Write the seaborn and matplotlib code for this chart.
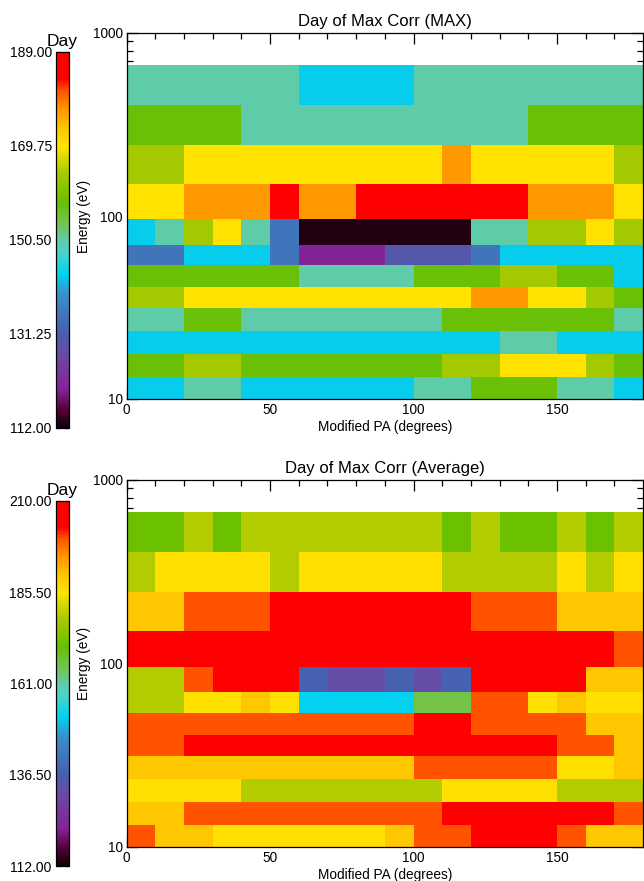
import numpy as np
import matplotlib
matplotlib.use("Agg")
import matplotlib.pyplot as plt
import seaborn as sns
from matplotlib.colors import LinearSegmentedColormap, Normalize
from matplotlib.ticker import FixedLocator, FixedFormatter, NullFormatter, FormatStrFormatter

# Pitch-angle bins (degrees) and energy bins (eV, listed from the top row down)
pa_edges = [0, 10, 20, 30, 40, 50, 60, 70, 80, 90, 100, 110, 120, 130, 140, 150, 160, 170, 180]
energy_edges = [668, 404, 244, 150, 96, 69.5, 54, 41, 31.4, 23.6, 17.6, 13.2, 10]

# Day of maximum correlation, per energy row (top row first) and pitch-angle bin
day_max = [
    [150, 150, 150, 150, 150, 150, 143, 143, 143, 143, 150, 150, 150, 150, 150, 150, 150, 150],
    [158, 158, 158, 158, 150, 150, 150, 150, 150, 150, 150, 150, 150, 150, 158, 158, 158, 158],
    [164, 164, 170, 170, 170, 170, 170, 170, 170, 170, 170, 177, 170, 170, 170, 170, 170, 164],
    [170, 170, 177, 177, 177, 186, 177, 177, 186, 186, 186, 186, 186, 186, 177, 177, 177, 170],
    [143, 150, 164, 170, 150, 135, 113, 113, 113, 113, 113, 113, 150, 150, 164, 164, 170, 164],
    [135, 135, 143, 143, 143, 135, 120, 120, 120, 130, 130, 130, 135, 143, 143, 143, 143, 143],
    [158, 158, 158, 158, 158, 158, 150, 150, 150, 150, 158, 158, 158, 164, 164, 158, 158, 143],
    [164, 164, 170, 170, 170, 170, 170, 170, 170, 170, 170, 170, 177, 177, 170, 170, 164, 158],
    [150, 150, 158, 158, 150, 150, 150, 150, 150, 150, 150, 158, 158, 158, 158, 158, 158, 150],
    [143, 143, 143, 143, 143, 143, 143, 143, 143, 143, 143, 143, 143, 150, 150, 143, 143, 143],
    [158, 158, 164, 164, 158, 158, 158, 158, 158, 158, 158, 164, 164, 170, 170, 170, 164, 158],
    [143, 143, 150, 150, 143, 143, 143, 143, 143, 143, 150, 150, 158, 158, 158, 150, 150, 143],
]

day_avg = [
    [171, 171, 179, 171, 179, 179, 179, 179, 179, 179, 179, 171, 179, 171, 171, 179, 171, 179],
    [179, 186, 186, 186, 186, 179, 186, 186, 186, 186, 186, 179, 179, 179, 179, 186, 179, 186],
    [190, 190, 200, 200, 200, 206, 206, 206, 206, 206, 206, 206, 200, 200, 200, 190, 190, 190],
    [206, 206, 206, 206, 206, 206, 206, 206, 206, 206, 206, 206, 206, 206, 206, 206, 206, 200],
    [179, 179, 200, 206, 206, 206, 137, 132, 132, 137, 132, 137, 206, 206, 206, 206, 190, 190],
    [179, 179, 186, 186, 190, 186, 152, 152, 152, 152, 166, 166, 200, 200, 186, 190, 186, 186],
    [200, 200, 200, 200, 200, 200, 200, 200, 200, 200, 206, 206, 200, 200, 200, 200, 190, 190],
    [200, 200, 206, 206, 206, 206, 206, 206, 206, 206, 206, 206, 206, 206, 206, 200, 200, 190],
    [190, 190, 190, 190, 190, 190, 190, 190, 190, 190, 200, 200, 200, 200, 200, 186, 186, 190],
    [186, 186, 186, 186, 179, 179, 179, 179, 179, 179, 179, 186, 186, 186, 186, 179, 179, 179],
    [190, 190, 200, 200, 200, 200, 200, 200, 200, 200, 200, 206, 206, 206, 206, 206, 206, 200],
    [200, 190, 190, 186, 186, 186, 186, 186, 186, 190, 200, 200, 206, 206, 206, 200, 190, 190],
]

panels = [
    ("Day of Max Corr (MAX)", day_max, (112.0, 189.0), [112.0, 131.25, 150.5, 169.75, 189.0]),
    ("Day of Max Corr (Average)", day_avg, (112.0, 210.0), [112.0, 136.5, 161.0, 185.5, 210.0]),
]

sns.set_theme(style="ticks")
plt.rcParams["font.family"] = ["Liberation Sans", "DejaVu Sans"]
plt.rcParams["axes.edgecolor"] = "black"
plt.rcParams["axes.linewidth"] = 0.9
plt.rcParams["text.color"] = "black"
plt.rcParams["axes.labelcolor"] = "black"
plt.rcParams["axes.titlecolor"] = "black"

# Rainbow table running black -> purple -> blue -> cyan -> green -> yellow -> red
rainbow = LinearSegmentedColormap.from_list("rainbow_day", [
    (0.00, (15 / 255, 0, 5 / 255)),
    (0.05, (90 / 255, 0, 60 / 255)),
    (0.10, (130 / 255, 35 / 255, 150 / 255)),
    (0.20, (105 / 255, 75 / 255, 165 / 255)),
    (0.25, (70 / 255, 95 / 255, 175 / 255)),
    (0.35, (60 / 255, 140 / 255, 200 / 255)),
    (0.41, (0, 212 / 255, 240 / 255)),
    (0.47, (80 / 255, 210 / 255, 200 / 255)),
    (0.50, (98 / 255, 203 / 255, 160 / 255)),
    (0.55, (115 / 255, 195 / 255, 75 / 255)),
    (0.60, (104 / 255, 192 / 255, 0)),
    (0.68, (170 / 255, 202 / 255, 0)),
    (0.75, (1.0, 228 / 255, 0)),
    (0.80, (1.0, 196 / 255, 0)),
    (0.85, (1.0, 150 / 255, 0)),
    (0.90, (1.0, 80 / 255, 0)),
    (0.93, (1.0, 0, 0)),
    (1.00, (1.0, 0, 0)),
])

W, H = 644.0, 881.0
fig = plt.figure(figsize=(W / 100, H / 100), dpi=100)

# pixel boxes: (left, top, right, bottom)
axes_boxes = [(126.7, 33, 643, 399), (126.7, 480, 643, 847)]
cbar_boxes = [(56, 52, 69, 428), (56, 501, 69, 866)]


def frac(box):
    l, t, r, b = box
    return [l / W, 1 - b / H, (r - l) / W, (b - t) / H]


for (title, grid, (vmin, vmax), cticks), abox, cbox in zip(panels, axes_boxes, cbar_boxes):
    ax = fig.add_axes(frac(abox))
    mesh = ax.pcolormesh(pa_edges, energy_edges, np.array(grid, dtype=float),
                         cmap=rainbow, norm=Normalize(vmin, vmax), shading="flat")
    ax.set_yscale("log")
    ax.set_xlim(0, 180)
    ax.set_ylim(10, 1000)
    ax.set_facecolor("white")

    ax.xaxis.set_major_locator(FixedLocator([0, 50, 100, 150]))
    ax.xaxis.set_minor_locator(FixedLocator([10, 20, 30, 40, 60, 70, 80, 90, 110, 120, 130, 140, 160, 170]))
    ax.yaxis.set_major_locator(FixedLocator([10, 100, 1000]))
    ax.yaxis.set_major_formatter(FixedFormatter(["10", "100", "1000"]))
    ax.yaxis.set_minor_locator(FixedLocator([m * d for d in (10, 100) for m in range(2, 10)]))
    ax.yaxis.set_minor_formatter(NullFormatter())
    ax.tick_params(which="both", direction="in", top=True, right=True, colors="black",
                   labelsize=9.8, width=0.9, pad=3)
    ax.tick_params(which="major", length=8)
    ax.tick_params(which="minor", length=4)

    ax.set_title(title, fontsize=12, pad=5)
    ax.set_xlabel("Modified PA (degrees)", fontsize=9.8, labelpad=2)
    ax.set_ylabel("Energy (eV)", fontsize=9.8, labelpad=1)
    for s in ax.spines.values():
        s.set_visible(True)
        s.set_color("black")

    cax = fig.add_axes(frac(cbox))
    cb = fig.colorbar(mesh, cax=cax, ticks=cticks)
    cb.outline.set_edgecolor("black")
    cb.outline.set_linewidth(0.9)
    cax.yaxis.set_ticks_position("both")
    cax.yaxis.set_label_position("left")
    cax.yaxis.set_major_formatter(FormatStrFormatter("%.2f"))
    cax.minorticks_off()
    cax.tick_params(axis="y", which="major", left=True, right=True, labelleft=True,
                    labelright=False, direction="in", length=3, width=0.9,
                    labelsize=10, pad=3, colors="black")
    cax.set_title("Day", fontsize=12.5, pad=4)

fig.savefig("out.png", dpi=100, facecolor="white")
